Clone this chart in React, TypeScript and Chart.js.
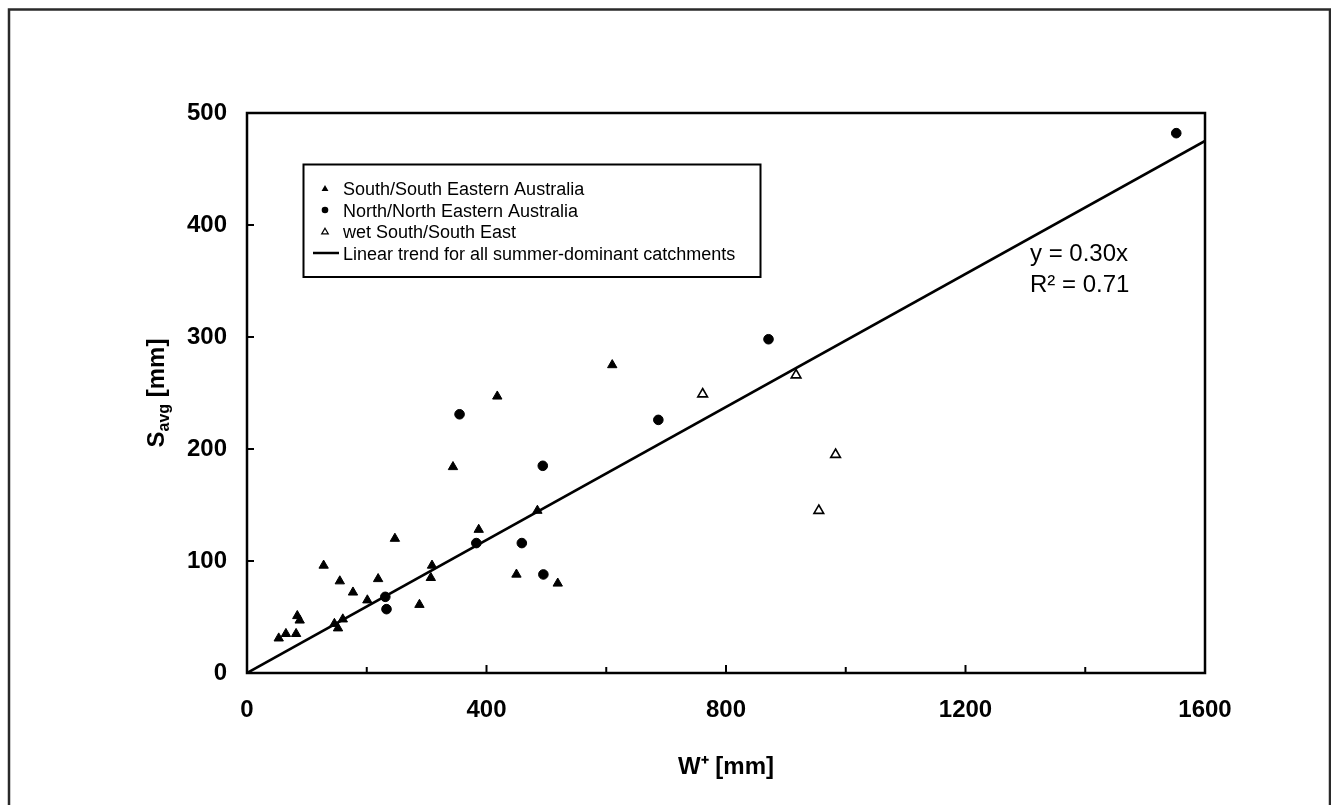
import React, { useEffect, useRef } from 'react';
import { Chart, registerables } from 'chart.js';

Chart.register(...registerables);

const FONT = '"Liberation Sans", Arial, Helvetica, sans-serif';

// ---- data ----
const seriesNames = [
  'South/South Eastern Australia',
  'North/North Eastern Australia',
  'wet South/South East',
  'Linear trend for all summer-dominant catchments',
];

const sseX = [53, 65, 82, 84, 88, 128, 146, 152, 155, 160, 177, 201, 219, 247, 288, 307, 309, 344, 387, 418, 450, 485, 519, 610];
const sseY = [31, 35, 35, 51, 47, 96, 44, 40, 82, 48, 72, 65, 84, 120, 61, 85, 96, 184, 128, 247, 88, 145, 80, 275];

const nneX = [231, 233, 355, 383, 459, 494, 495, 687, 871, 1552];
const nneY = [68, 57, 231, 116, 116, 185, 88, 226, 298, 482];

const wetX = [761, 917, 955, 983];
const wetY = [249, 266, 145, 195];

const trendX = [0, 1600];
const trendY = [0, 475];

const xLabelValues = [0, 400, 800, 1200, 1600];
const yLabelValues = [0, 100, 200, 300, 400, 500];

const xTitle = 'W⁺ [mm]';
const yTitleMain = 'S';
const yTitleSub = 'avg';
const yTitleRest = ' [mm]';
const equationLines = ['y = 0.30x', 'R² = 0.71'];

const toPts = (xs: number[], ys: number[]) => xs.map((x, i) => ({ x, y: ys[i] }));

function drawTri(ctx: CanvasRenderingContext2D, x: number, y: number, r: number) {
  ctx.beginPath();
  for (let k = 0; k < 3; k++) {
    const a = (k * 2 * Math.PI) / 3;
    const px = x + Math.sin(a) * r;
    const py = y - Math.cos(a) * r;
    if (k === 0) ctx.moveTo(px, py);
    else ctx.lineTo(px, py);
  }
  ctx.closePath();
}

const decorPlugin = {
  id: 'decor',
  beforeDraw(chart: any) {
    const ctx = chart.ctx as CanvasRenderingContext2D;
    ctx.save();
    ctx.fillStyle = '#ffffff';
    ctx.fillRect(0, 0, chart.width, chart.height);
    ctx.strokeStyle = '#2a2a2a';
    ctx.lineWidth = 2.5;
    ctx.beginPath();
    ctx.moveTo(9, 900);
    ctx.lineTo(9, 9.5);
    ctx.lineTo(1330, 9.5);
    ctx.lineTo(1330, 900);
    ctx.stroke();
    ctx.restore();
  },
  afterDraw(chart: any) {
    const ctx = chart.ctx as CanvasRenderingContext2D;
    const ca = chart.chartArea;
    const xs = chart.scales.x;
    const ys = chart.scales.y;
    ctx.save();
    // plot box
    ctx.strokeStyle = '#000';
    ctx.lineWidth = 2.5;
    ctx.strokeRect(ca.left, ca.top, ca.right - ca.left, ca.bottom - ca.top);
    // inward ticks
    ctx.lineWidth = 2;
    xs.ticks.forEach((t: any) => {
      const px = xs.getPixelForValue(t.value);
      const len = xLabelValues.includes(t.value) ? 8 : 6;
      ctx.beginPath();
      ctx.moveTo(px, ca.bottom);
      ctx.lineTo(px, ca.bottom - len);
      ctx.stroke();
    });
    ys.ticks.forEach((t: any) => {
      const py = ys.getPixelForValue(t.value);
      ctx.beginPath();
      ctx.moveTo(ca.left, py);
      ctx.lineTo(ca.left + 7, py);
      ctx.stroke();
    });

    // y-axis title with subscript
    ctx.fillStyle = '#000';
    const big = `bold 24px ${FONT}`;
    const small = `bold 16px ${FONT}`;
    ctx.font = big;
    const w1 = ctx.measureText(yTitleMain).width;
    const w3 = ctx.measureText(yTitleRest).width;
    ctx.font = small;
    const w2 = ctx.measureText(yTitleSub).width;
    const total = w1 + w2 + w3;
    ctx.translate(164, (ca.top + ca.bottom) / 2);
    ctx.rotate(-Math.PI / 2);
    ctx.textBaseline = 'alphabetic';
    ctx.textAlign = 'left';
    let cx = -total / 2;
    ctx.font = big;
    ctx.fillText(yTitleMain, cx, 0);
    cx += w1;
    ctx.font = small;
    ctx.fillText(yTitleSub, cx, 5);
    cx += w2;
    ctx.font = big;
    ctx.fillText(yTitleRest, cx, 0);
    ctx.setTransform(1, 0, 0, 1, 0, 0);

    // equation
    ctx.font = `24px ${FONT}`;
    ctx.textAlign = 'left';
    ctx.textBaseline = 'alphabetic';
    ctx.fillText(equationLines[0], 1030, 261);
    ctx.fillText(equationLines[1], 1030, 292);

    // legend
    const lx = 303.5, ly = 164.5, lw = 457, lh = 112.5;
    ctx.fillStyle = '#fff';
    ctx.fillRect(lx, ly, lw, lh);
    ctx.strokeStyle = '#000';
    ctx.lineWidth = 2;
    ctx.strokeRect(lx, ly, lw, lh);
    const baselines = [195, 216.5, 238, 259.5];
    const symX = 325;
    ctx.font = `18px ${FONT}`;
    chart.data.datasets.forEach((ds: any, i: number) => {
      const b = baselines[i];
      const cy = b - 6.5;
      ctx.fillStyle = '#000';
      ctx.strokeStyle = '#000';
      if (i === 0) {
        drawTri(ctx, symX, cy + 0.5, 4);
        ctx.fill();
      } else if (i === 1) {
        ctx.beginPath();
        ctx.arc(symX, cy, 3.3, 0, Math.PI * 2);
        ctx.fill();
      } else if (i === 2) {
        drawTri(ctx, symX, cy + 0.5, 3.8);
        ctx.fillStyle = '#fff';
        ctx.fill();
        ctx.lineWidth = 1.2;
        ctx.stroke();
        ctx.fillStyle = '#000';
      } else {
        ctx.lineWidth = 2.5;
        ctx.beginPath();
        ctx.moveTo(313, cy);
        ctx.lineTo(339, cy);
        ctx.stroke();
      }
      ctx.fillText(ds.label, 343, b);
    });
    ctx.restore();
  },
};

export default function App() {
  const ref = useRef<HTMLCanvasElement | null>(null);

  useEffect(() => {
    if (!ref.current) return;
    const chart = new Chart(ref.current, {
      type: 'scatter',
      data: {
        datasets: [
          {
            label: seriesNames[0],
            data: toPts(sseX, sseY),
            pointStyle: 'triangle',
            pointRadius: 5.4,
            backgroundColor: '#000',
            borderColor: '#000',
            borderWidth: 1,
          },
          {
            label: seriesNames[1],
            data: toPts(nneX, nneY),
            pointStyle: 'circle',
            pointRadius: 4.8,
            backgroundColor: '#000',
            borderColor: '#000',
            borderWidth: 1,
          },
          {
            label: seriesNames[2],
            data: toPts(wetX, wetY),
            pointStyle: 'triangle',
            pointRadius: 5.6,
            backgroundColor: '#fff',
            borderColor: '#000',
            borderWidth: 1.6,
          },
          {
            label: seriesNames[3],
            data: toPts(trendX, trendY),
            showLine: true,
            pointRadius: 0,
            borderColor: '#000',
            backgroundColor: '#000',
            borderWidth: 2.6,
          } as any,
        ],
      },
      options: {
        animation: false,
        responsive: false,
        maintainAspectRatio: false,
        layout: { padding: { left: 0, top: 113, right: 126, bottom: 0 } },
        plugins: {
          legend: { display: false },
          tooltip: { enabled: false },
        },
        scales: {
          x: {
            type: 'linear',
            min: 0,
            max: 1600,
            afterFit: (s: any) => {
              s.height = 132;
            },
            border: { display: false },
            grid: { display: true, drawOnChartArea: false, drawTicks: false },
            ticks: {
              stepSize: 200,
              autoSkip: false,
              maxRotation: 0,
              padding: 23,
              color: '#000',
              font: { family: FONT, size: 24, weight: 'bold' },
              callback: (v: any) => (xLabelValues.includes(Number(v)) ? String(v) : ''),
            },
            title: {
              display: true,
              text: xTitle,
              color: '#000',
              font: { family: FONT, size: 24, weight: 'bold' },
              padding: { top: 0, bottom: 23 },
            },
          },
          y: {
            type: 'linear',
            min: 0,
            max: 500,
            afterFit: (s: any) => {
              s.width = 247;
            },
            border: { display: false },
            grid: { display: true, drawOnChartArea: false, drawTicks: false },
            ticks: {
              stepSize: 100,
              padding: 20,
              color: '#000',
              font: { family: FONT, size: 24, weight: 'bold' },
              callback: (v: any) => (yLabelValues.includes(Number(v)) ? String(v) : ''),
            },
          },
        },
      },
      plugins: [decorPlugin],
    });
    return () => chart.destroy();
  }, []);

  return (
    <div style={{ position: 'absolute', left: 0, top: 0, width: 1331, height: 805, background: '#fff' }}>
      <canvas ref={ref} width={1331} height={805} style={{ display: 'block' }} />
    </div>
  );
}
